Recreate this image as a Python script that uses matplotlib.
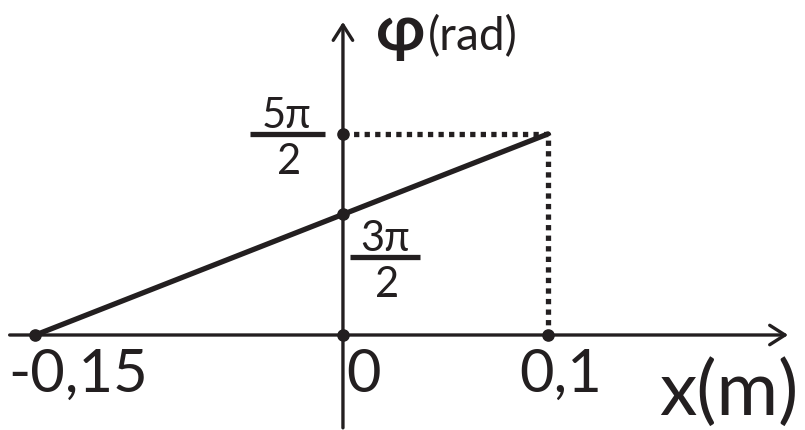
import numpy as np
import matplotlib.pyplot as plt
from matplotlib.transforms import ScaledTranslation

# phase vs position
x_pts = [-0.15, 0.0, 0.1]
phi_pts = [0.0, 1.5 * np.pi, 2.5 * np.pi]

x_ticks = [-0.15, 0.0, 0.1]
x_ticklabels = ['-0,15', '0', '0,1']
phi_ticks = [1.5 * np.pi, 2.5 * np.pi]
phi_nums = ['3π', '5π']
phi_den = '2'

ink = '#231f20'
fam = ['Lato', 'DejaVu Sans']

fig = plt.figure(figsize=(8.05, 4.30), dpi=100)
ax = fig.add_axes([0, 0, 1, 1])
ax.set_xlim(-0.1673, 0.2254)
ax.set_ylim(-3.711, 13.086)
ax.axis('off')


def shift(dx, dy):
    # offset in pixels from a data point
    return ax.transData + ScaledTranslation(dx / 100, dy / 100, fig.dpi_scale_trans)


def near(x, y):
    # coordinates in inches around a data point
    return fig.dpi_scale_trans + ScaledTranslation(x, y, ax.transData)


# axes with open arrow heads
arrow = dict(arrowstyle='->,head_length=0.55,head_width=0.35', lw=2.4,
             color=ink, mutation_scale=20, shrinkA=0, shrinkB=0)
ax.annotate('', xy=(0.979, 0), xytext=(0.012, 0),
            xycoords=('axes fraction', 'data'), arrowprops=arrow)
ax.annotate('', xy=(0, 0.949), xytext=(0, 0.005),
            xycoords=('data', 'axes fraction'), arrowprops=arrow)

# the phase line
ax.plot(x_pts, phi_pts, color=ink, lw=3.8, solid_capstyle='round', zorder=3)

# dotted guides to the end point
ax.plot([0, x_pts[-1], x_pts[-1]], [phi_pts[-1], phi_pts[-1], 0],
        color=ink, lw=3.8, ls=(0, (1, 1)), dash_capstyle='butt', zorder=2)

# dots on the axes
ax.scatter(x_ticks, [0] * len(x_ticks), s=65, color=ink, zorder=4)
ax.scatter([0] * len(phi_ticks), phi_ticks, s=65, color=ink, zorder=4)

# x tick labels
for xv, lab, dx in zip(x_ticks, x_ticklabels, [-27, 3, -29]):
    ax.text(xv, 0, lab, transform=shift(dx, -57), ha='left', va='baseline',
            fontsize=43, color=ink, family=fam)

# phi tick labels as stacked fractions
for yv, num, cx, bar_dy, bar in zip(phi_ticks, phi_nums, [42, -56], [-43, 0],
                                    [(7, 77), (-93, -18)]):
    ax.plot([bar[0] / 100, bar[1] / 100], [bar_dy / 100] * 2,
            transform=near(0, yv), color=ink, lw=3.8, solid_capstyle='butt')
    ax.text(0, yv, num, transform=shift(cx, bar_dy + 6), ha='center',
            va='baseline', fontsize=30, color=ink, family=fam)
    ax.text(0, yv, phi_den, transform=shift(cx + 2, bar_dy - 40), ha='center',
            va='baseline', fontsize=30, color=ink, family=fam)

# axis titles
ax.text(0.992, 0.035, 'x(m)', transform=ax.transAxes, ha='right',
        va='baseline', fontsize=54, color=ink, family=fam)
ax.text(0.467, 1 - 50 / 430, 'φ', transform=ax.transAxes, ha='left',
        va='baseline', fontsize=46, fontweight='bold', color=ink, family=fam)
ax.text(0.531, 1 - 50 / 430, '(rad)', transform=ax.transAxes, ha='left',
        va='baseline', fontsize=33, color=ink, family=fam)

fig.savefig('out.png', dpi=100)
